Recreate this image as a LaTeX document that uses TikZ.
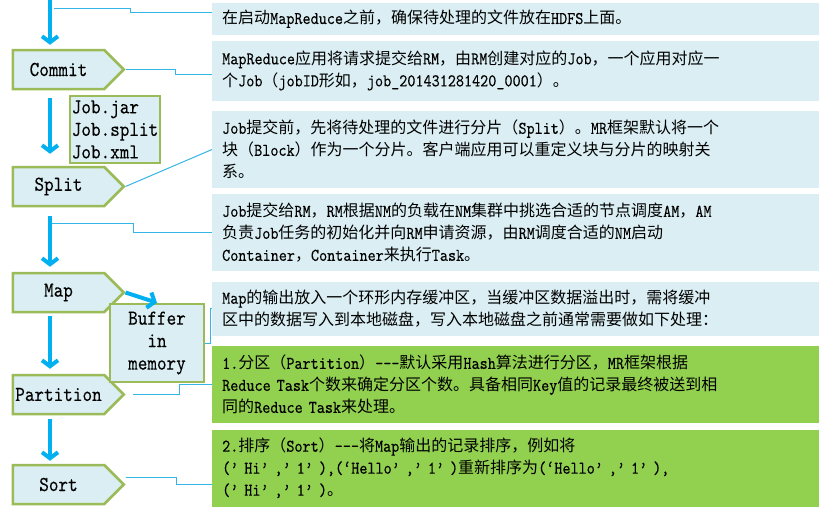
\documentclass[tikz,border=0pt]{standalone}
\usepackage{fontspec}
\usetikzlibrary{positioning,arrows.meta,shapes.symbols}
\newfontfamily\cjkfont{Noto Sans CJK SC}
\newfontfamily\latinfont{lmmono10-regular.otf}[Scale=1.12, FakeStretch=0.86, FakeBold=0.15]
\definecolor{FlowBlue}{HTML}{00B0F0}
\definecolor{LinkBlue}{HTML}{33B5E8}
\definecolor{PaleAqua}{HTML}{DAEEF3}
\definecolor{OliveEdge}{HTML}{9BBB59}
\definecolor{LeafGreen}{HTML}{92D050}

% switch to the CJK font for Chinese characters and back for Latin ones
\XeTeXinterchartokenstate=1
\newXeTeXintercharclass\CJKclass
\newcount\cjkcode
\def\setcjkrange#1#2{\cjkcode=#1\relax
  \loop\XeTeXcharclass\cjkcode=\CJKclass
  \ifnum\cjkcode<#2\advance\cjkcode by 1\repeat}
\setcjkrange{"3000}{"303F}
\setcjkrange{"4E00}{"9FFF}
\setcjkrange{"FF00}{"FFEF}
\XeTeXinterchartoks 0 \CJKclass = {\cjkfont}
\XeTeXinterchartoks 4095 \CJKclass = {\cjkfont}
\XeTeXinterchartoks \CJKclass 0 = {\latinfont}
\XeTeXinterchartoks \CJKclass 4095 = {\latinfont}

\begin{document}
\begin{tikzpicture}[
  x=1pt, y=1pt,
  % --- left column ---
  stage/.style={signal, signal to=east, draw=OliveEdge, line width=2.5pt, fill=PaleAqua,
    minimum width=111pt, minimum height=39pt, inner sep=0pt,
    font=\fontsize{19}{22}\selectfont\latinfont},
  filebox/.style={draw=OliveEdge, line width=2.5pt, fill=PaleAqua, inner xsep=2pt,
    font=\fontsize{19}{22.5}\selectfont\latinfont},
  % --- right column ---
  note/.style={fill=PaleAqua, text width=587pt, inner xsep=10pt, inner ysep=0pt, align=left,
    font=\fontsize{16}{22}\selectfont\latinfont},
  greennote/.style={note, fill=LeafGreen},
  % --- connectors ---
  flow/.style={FlowBlue, line width=4pt, -{Straight Barb[length=6pt,width=16pt]}},
  link/.style={LinkBlue, line width=1pt},
]
\useasboundingbox (0,0) rectangle (819,-512);

% =================== NOTES ===================
\node[note, minimum height=32pt, anchor=north west] (hdfs) at (212,-3)
  {在启动MapReduce之前，确保待处理的文件放在HDFS上面。};
\node[note, minimum height=60pt, below=5pt of hdfs] (submit)
  {MapReduce应用将请求提交给RM，由RM创建对应的Job，一个应用对应一\\个Job（jobID形如，job\_201431281420\_0001）。};
\node[note, minimum height=77pt, below=10pt of submit] (splitnote)
  {Job提交前，先将待处理的文件进行分片（Split）。MR框架默认将一个\\块（Block）作为一个分片。客户端应用可以重定义块与分片的映射关\\系。};
\node[note, minimum height=77pt, below=6pt of splitnote] (schedule)
  {Job提交给RM，RM根据NM的负载在NM集群中挑选合适的节点调度AM，AM\\负责Job任务的初始化并向RM申请资源，由RM调度合适的NM启动\\Container，Container来执行Task。};
\node[note, minimum height=54pt, below=10pt of schedule] (spill)
  {Map的输出放入一个环形内存缓冲区，当缓冲区数据溢出时，需将缓冲\\区中的数据写入到本地磁盘，写入本地磁盘之前通常需要做如下处理：};
\node[greennote, minimum height=77pt, below=10pt of spill] (partnote)
  {1.分区（Partition）-{}-{}-默认采用Hash算法进行分区，MR框架根据\\Reduce Task个数来确定分区个数。具备相同Key值的记录最终被送到相\\同的Reduce Task来处理。};
\node[greennote, minimum height=77pt, below=6pt of partnote] (sortnote)
  {2.排序（Sort）-{}-{}-将Map输出的记录排序，例如将\\(’ Hi’ ,’ 1’ ),(‘Hello’ ,’ 1’ )重新排序为(‘Hello’ ,’ 1’ ),\\(’ Hi’ ,’ 1’ )。};

% =================== STAGES ===================
\node[stage] (commit) at (58.5,-69.5) {Commit};
\node[stage, below=75.5pt of commit] (split) {Split};
\node[stage, below=64.5pt of split] (map) {Map};
\node[stage, below=60.5pt of map] (partition) {Partition};
\node[stage, below=48.5pt of partition] (sort) {Sort};

\node[filebox, align=left, minimum width=88pt, minimum height=67pt] (jobfiles) at (115,-129.5)
  {Job.jar\\Job.split\\Job.xml};
\node[filebox, align=center, minimum width=94pt, minimum height=78pt] (buffer) at (157,-343)
  {Buffer\\in\\memory};

% =================== FLOW ===================
\coordinate (top) at (50,0);
\draw[flow, shorten >=4pt] (top) -- (top |- commit.north);
\draw[flow, shorten <=8pt, shorten >=12pt] (commit.south -| top) -- (split.north -| top);
\draw[flow, shorten <=9pt, shorten >=5pt] (split.south -| top) -- (map.north -| top);
\draw[flow, shorten <=3pt, shorten >=5pt] (map.south -| top) -- (partition.north -| top);
\draw[flow, shorten <=4pt, shorten >=3pt] (partition.south -| top) -- (sort.north -| top);
\draw[flow] (map.east) -- (buffer.north);

% =================== LINKS ===================
\coordinate (tap1) at (54,-8);
\coordinate (tap4) at (52,-223);
\draw[link] (tap1) -- ++(76,0) |- ([yshift=7pt]hdfs.west);
\draw[link] (commit.east) -- ++(50,0) |- ([yshift=-4pt]submit.west);
\draw[link] (split.east) -- (splitnote.west);
\draw[link] (tap4) -- ++(81,0) |- (schedule.west);
\draw[link] (buffer.east) -- ++(5,0) |- (spill.west);
\draw[link] ([xshift=7pt]partition.east) -- ++(47,0) |- (partnote.west);
\draw[link] ([yshift=7pt]sort.east) -- ++(51,0) |- ([yshift=-16.5pt]sortnote.west);

\end{tikzpicture}
\end{document}
